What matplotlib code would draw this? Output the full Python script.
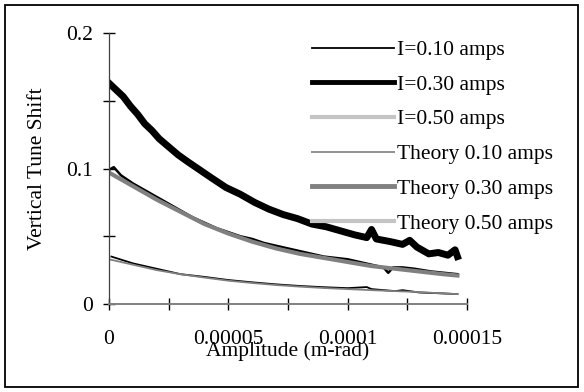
import matplotlib
matplotlib.use("Agg")
import matplotlib.pyplot as plt
from matplotlib.lines import Line2D
from matplotlib.patches import Rectangle

plt.rcParams["font.family"] = ["Liberation Serif", "DejaVu Serif"]

# amplitude in units of 1e-5 m-rad
x_i30 = [0.0, 0.3, 0.6, 0.9, 1.2, 1.5, 1.8, 2.1, 2.5, 2.9, 3.3, 3.8, 4.3, 4.9,
         5.5, 6.1, 6.7, 7.3, 7.9, 8.5, 9.1, 9.7, 10.3, 10.8, 11.0, 11.2, 11.8,
         12.3, 12.6, 12.9, 13.4, 13.8, 14.2, 14.5, 14.6]
y_i30 = [0.163, 0.158, 0.153, 0.146, 0.140, 0.133, 0.128, 0.122, 0.116, 0.110,
         0.105, 0.099, 0.093, 0.086, 0.081, 0.075, 0.070, 0.066, 0.063, 0.059,
         0.057, 0.054, 0.051, 0.049, 0.055, 0.048, 0.046, 0.044, 0.047, 0.042,
         0.037, 0.038, 0.036, 0.040, 0.035]

x_i10 = [0.0, 0.2, 0.5, 1.0, 1.5, 2.0, 2.5, 3.0, 3.5, 4.0, 4.5, 5.0, 5.5, 6.0,
         6.5, 7.0, 7.5, 8.0, 8.5, 9.0, 9.5, 10.0, 10.5, 11.0, 11.5, 11.7, 11.9,
         12.3, 12.8, 13.5, 14.6]
y_i10 = [0.099, 0.101, 0.095, 0.089, 0.084, 0.079, 0.074, 0.069, 0.064, 0.060,
         0.056, 0.053, 0.050, 0.048, 0.045, 0.043, 0.041, 0.039, 0.037, 0.035,
         0.034, 0.033, 0.031, 0.029, 0.027, 0.023, 0.027, 0.027, 0.026, 0.024,
         0.022]

x_low = [0.1, 1.0, 2.0, 3.0, 4.0, 5.0, 6.0, 7.0, 8.0, 9.0, 10.0, 10.8, 11.0,
         12.0, 12.3, 13.0, 14.0, 14.6]
y_low = [0.035, 0.030, 0.026, 0.022, 0.020, 0.0177, 0.016, 0.0145, 0.0133,
         0.0124, 0.0117, 0.0125, 0.011, 0.0095, 0.0102, 0.0085, 0.0078, 0.0073]

x_th = [0.0, 1.0, 2.0, 3.0, 4.0, 5.0, 6.0, 7.0, 8.0, 9.0, 10.0, 11.0, 12.0,
        13.0, 14.0, 14.6]
y_th30 = [0.097, 0.087, 0.077, 0.068, 0.059, 0.052, 0.046, 0.041, 0.037, 0.034,
          0.031, 0.028, 0.026, 0.024, 0.022, 0.021]
y_th10 = [0.033, 0.029, 0.025, 0.022, 0.0195, 0.0172, 0.0155, 0.014, 0.0128,
          0.0118, 0.011, 0.0102, 0.0095, 0.0088, 0.0078, 0.0073]

legend_labels = ["I=0.10 amps", "I=0.30 amps", "I=0.50 amps",
                 "Theory 0.10 amps", "Theory 0.30 amps", "Theory 0.50 amps"]

x_ticks = [0, 2.5e-5, 5e-5, 7.5e-5, 1e-4, 1.25e-4, 1.5e-4]
x_tick_labels = ["0", "", "0.00005", "", "0.0001", "", "0.00015"]
y_ticks = [0, 0.05, 0.1, 0.15, 0.2]
y_tick_labels = ["0", "", "0.1", "", "0.2"]

fs = 15.5

fig = plt.figure(figsize=(5.84, 3.92), dpi=100)
ax = fig.add_axes([109 / 584, 88 / 392, 358 / 584, 271 / 392])

s = 1e-5
ax.plot([v * s for v in x_i30], y_i30, color="black", lw=5.0, solid_joinstyle="round")
ax.plot([v * s for v in x_i10], y_i10, color="black", lw=1.8)
ax.plot([v * s for v in x_low], y_low, color="black", lw=1.3)
ax.plot([v * s for v in x_th], y_th30, color="#808080", lw=3.0)
ax.plot([v * s for v in x_th], y_th10, color="#808080", lw=1.3)

ax.set_xlim(0, 1.5e-4)
ax.set_ylim(0, 0.2)
ax.set_xticks(x_ticks)
ax.set_xticklabels(x_tick_labels)
ax.set_yticks(y_ticks)
ax.set_yticklabels(y_tick_labels)
ax.tick_params(axis="both", direction="inout", length=9, width=1.0,
               colors="black", labelsize=fs)
ax.tick_params(axis="x", pad=14)
ax.tick_params(axis="y", pad=7)

for side in ["top", "right"]:
    ax.spines[side].set_visible(False)
ax.spines["left"].set_color("#404040")
ax.spines["left"].set_linewidth(0.9)
ax.spines["bottom"].set_color("#808080")
ax.spines["bottom"].set_linewidth(1.4)

ax.set_xlabel("Amplitude (m-rad)", fontsize=fs, labelpad=-5)
ax.set_ylabel("Vertical Tune Shift", fontsize=fs, labelpad=14)

handles = [
    Line2D([], [], color="black", lw=1.3),
    Line2D([], [], color="black", lw=3.5),
    Line2D([], [], color="#c4c4c4", lw=3.0),
    Line2D([], [], color="#909090", lw=1.4),
    Line2D([], [], color="#808080", lw=3.5),
    Line2D([], [], color="#c4c4c4", lw=3.0),
]
ax.legend(handles, legend_labels, loc="upper left",
          bbox_to_anchor=(312 / 584, 1 - 40 / 392), bbox_transform=fig.transFigure,
          frameon=False, fontsize=fs, handlelength=3.8, handletextpad=0.15,
          labelspacing=0.68, borderpad=0, borderaxespad=0)

fig.patches.append(Rectangle((5 / 584, 5 / 392), 573 / 584, 382 / 392,
                             transform=fig.transFigure, fill=False,
                             edgecolor="black", lw=1.3))

fig.savefig("out.png", dpi=100)
